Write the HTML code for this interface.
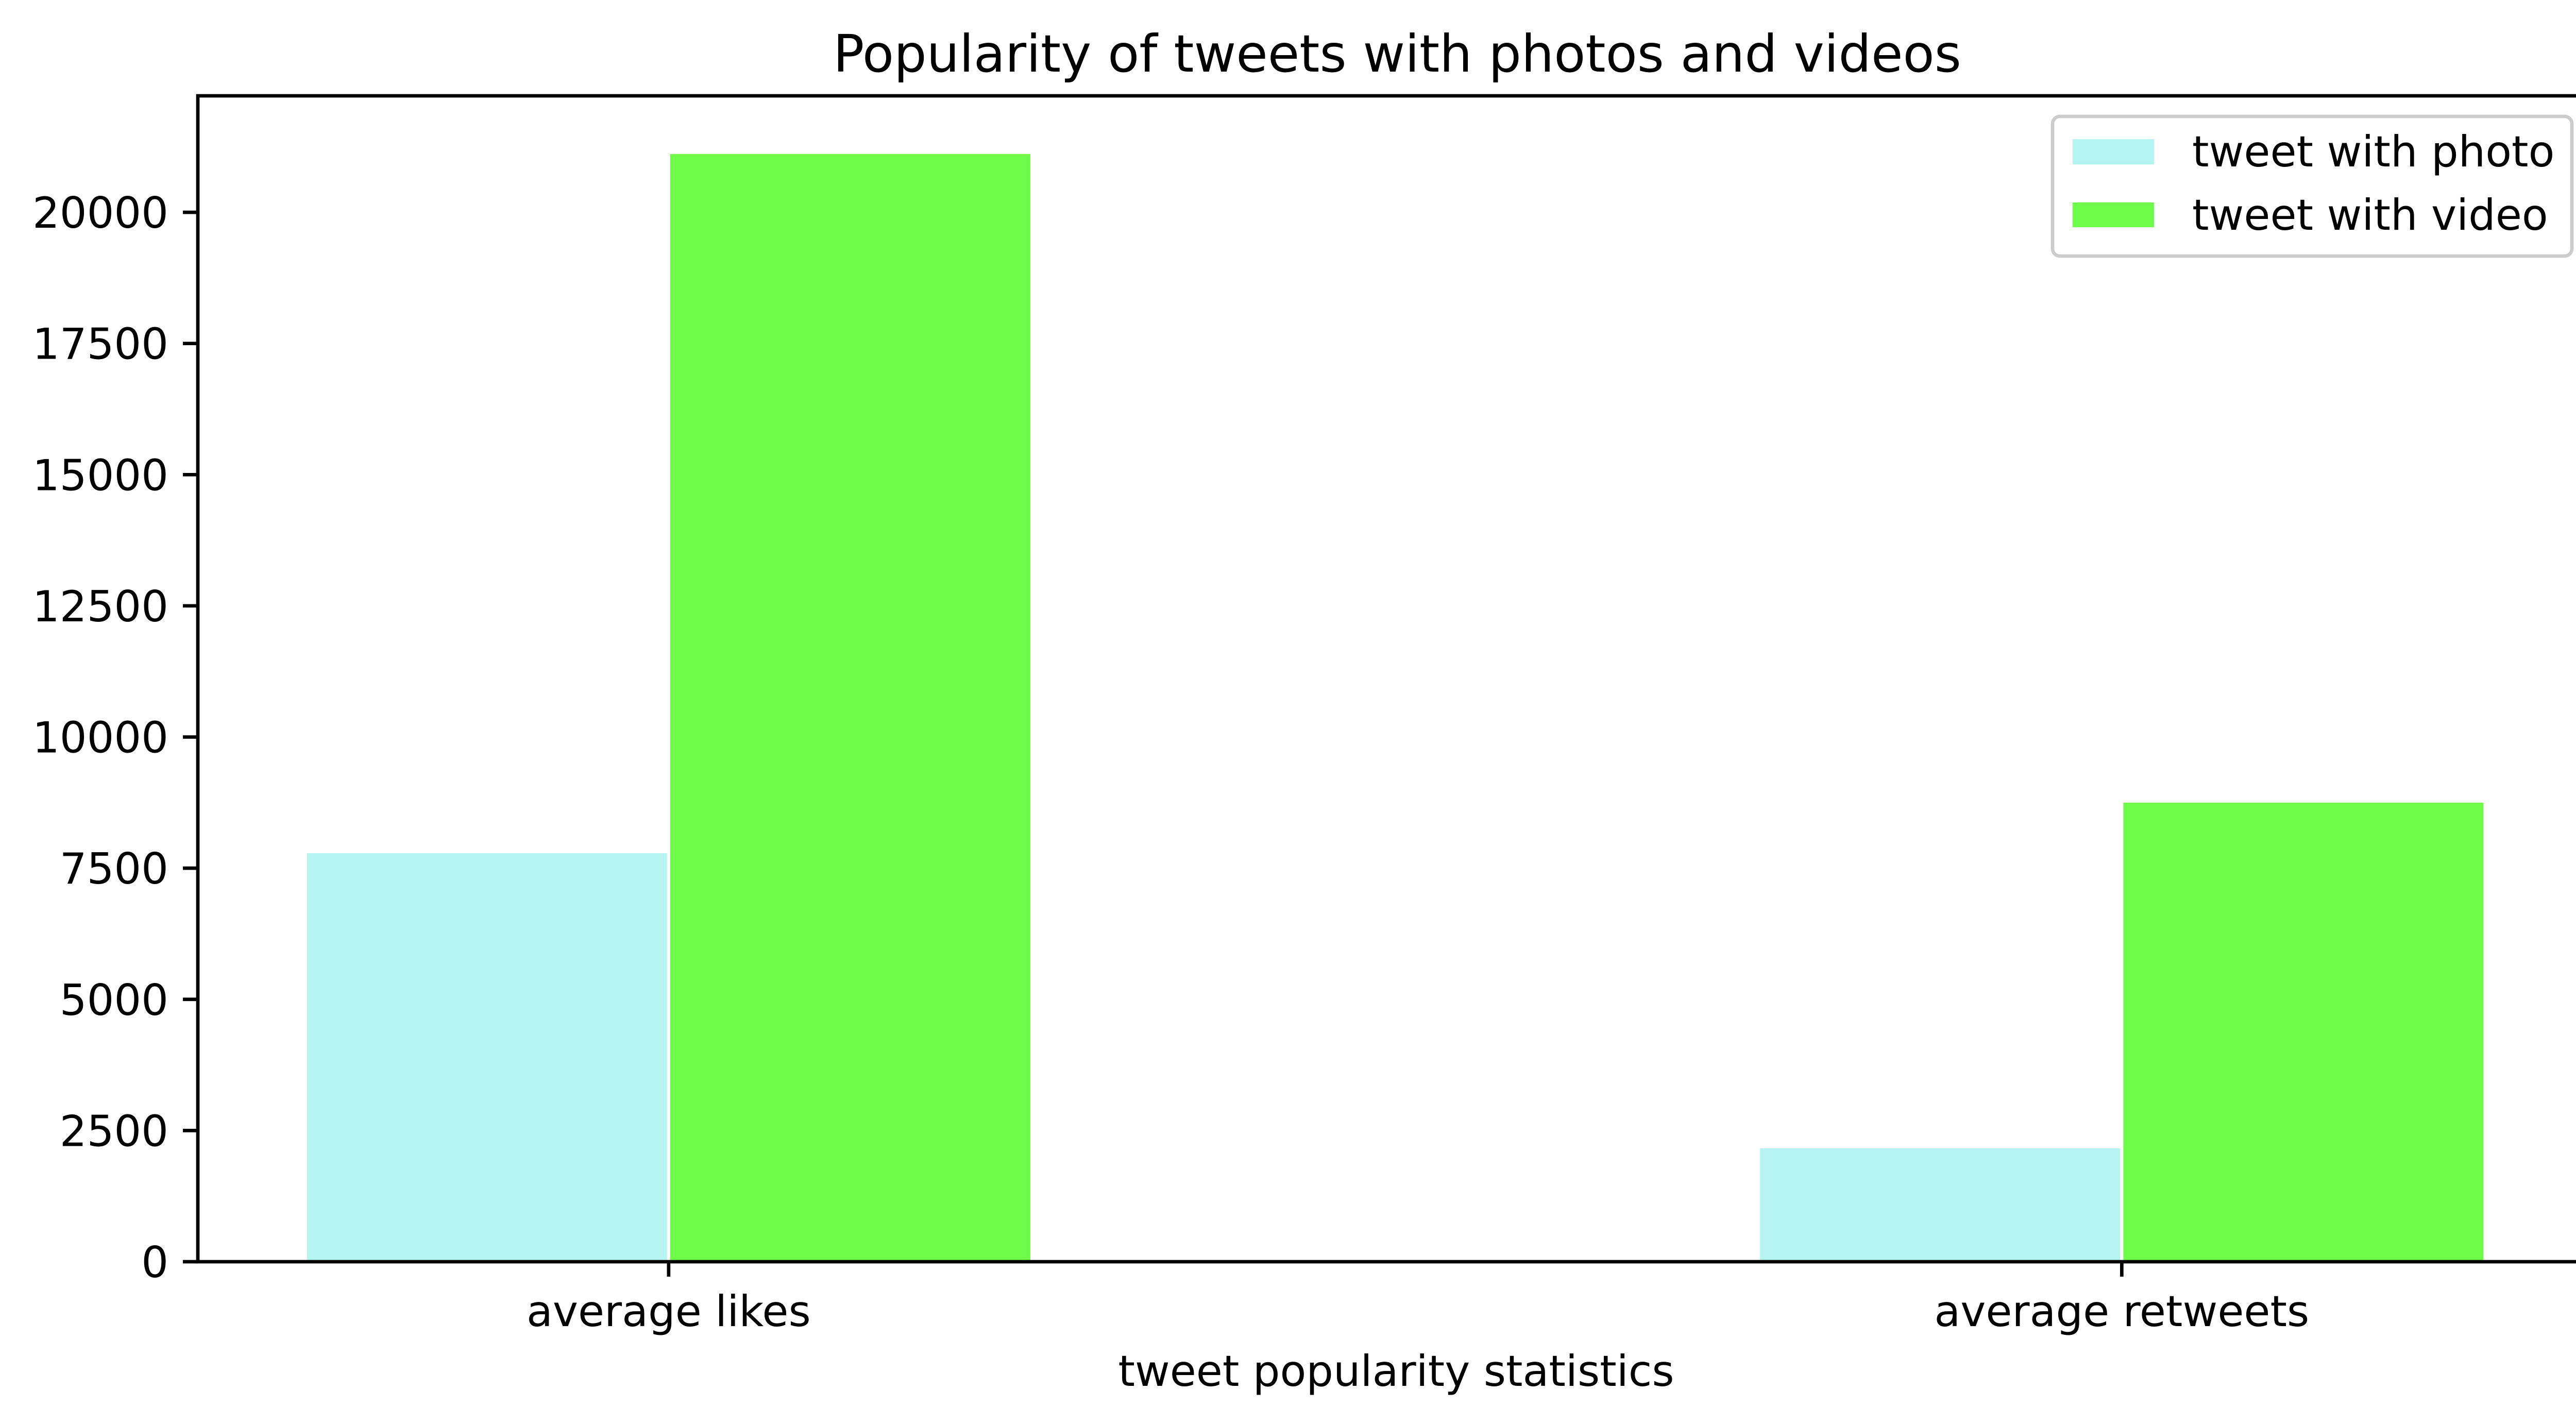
<!DOCTYPE html>
<html><head><meta charset="utf-8"><style>
html,body{margin:0;padding:0;background:#fff;}
svg{display:block;font-family:"DejaVu Sans","Liberation Sans",sans-serif;}
</style></head><body>
<svg id="chart" width="5093" height="2764" viewBox="0 0 5093 2764" xmlns="http://www.w3.org/2000/svg">
<rect x="0" y="0" width="5093" height="2764" fill="#fff"/>
<text x="2712" y="139" font-size="100" text-anchor="middle" fill="#000">Popularity of tweets with photos and videos</text>
<g id="bars"></g>
<g id="yaxis"></g>
<g id="xaxis"></g>
<rect x="384" y="186" width="4651" height="2263" fill="none" stroke="#000" stroke-width="6.7"/>
<text x="2710" y="2690" font-size="83" text-anchor="middle" fill="#000">tweet popularity statistics</text>
<g>
<rect x="3984" y="226" width="1008" height="271" rx="14" fill="#fff" fill-opacity="0.8" stroke="#cccccc" stroke-width="6.7"/>
<rect x="4023" y="270" width="158" height="49" fill="#b6f4f2"/>
<text x="4255" y="323" font-size="83" fill="#000">tweet with photo</text>
<rect x="4023" y="393" width="158" height="48" fill="#6ffb4a"/>
<text x="4255" y="446" font-size="83" fill="#000">tweet with video</text>
</g>
</svg>
<script>
const categories = ["average likes", "average retweets"];
const photoValues = [7816, 2190];
const videoValues = [21140, 8778];
const yTicks = [0, 2500, 5000, 7500, 10000, 12500, 15000, 17500, 20000];

const NS = "http://www.w3.org/2000/svg";
const plotLeft = 384, plotRight = 5035, plotTop = 186, plotBottom = 2449;
const xMin = -0.324, xMax = 1.325;
const yMax = 22220;
function xScale(v){ return plotLeft + (v - xMin) / (xMax - xMin) * (plotRight - plotLeft); }
function yScale(v){ return plotBottom - v / yMax * (plotBottom - plotTop); }
const barW = 0.25;

const bars = document.getElementById('bars');
function addBar(cx, val, color, name){
  const x0 = xScale(cx - barW/2), x1 = xScale(cx + barW/2);
  const r = document.createElementNS(NS, 'rect');
  r.setAttribute('x', x0); r.setAttribute('width', x1 - x0);
  r.setAttribute('y', yScale(val)); r.setAttribute('height', plotBottom - yScale(val));
  r.setAttribute('fill', color); r.setAttribute('stroke', '#fff'); r.setAttribute('stroke-width', '6');
  
  
  bars.appendChild(r);
}
categories.forEach((c, i) => {
  addBar(i - barW/2, photoValues[i], '#b6f4f2', 'bar-photo-' + i);
  addBar(i + barW/2, videoValues[i], '#6ffb4a', 'bar-video-' + i);
});

const ya = document.getElementById('yaxis');
yTicks.forEach(t => {
  const y = yScale(t);
  const l = document.createElementNS(NS, 'line');
  l.setAttribute('x1', plotLeft - 29); l.setAttribute('x2', plotLeft);
  l.setAttribute('y1', y); l.setAttribute('y2', y);
  l.setAttribute('stroke', '#000'); l.setAttribute('stroke-width', '6.7');
  
  
  ya.appendChild(l);
  const tx = document.createElementNS(NS, 'text');
  tx.setAttribute('x', plotLeft - 57); tx.setAttribute('y', y + 30);
  tx.setAttribute('font-size', '83'); tx.setAttribute('text-anchor', 'end');
  tx.textContent = String(t);
  
  
  ya.appendChild(tx);
});

const xa = document.getElementById('xaxis');
categories.forEach((c, i) => {
  const x = xScale(i);
  const l = document.createElementNS(NS, 'line');
  l.setAttribute('x1', x); l.setAttribute('x2', x);
  l.setAttribute('y1', plotBottom); l.setAttribute('y2', plotBottom + 29);
  l.setAttribute('stroke', '#000'); l.setAttribute('stroke-width', '6.7');
  
  
  xa.appendChild(l);
  const tx = document.createElementNS(NS, 'text');
  tx.setAttribute('x', x); tx.setAttribute('y', 2574);
  tx.setAttribute('font-size', '83'); tx.setAttribute('text-anchor', 'middle');
  tx.textContent = c;
  
  
  xa.appendChild(tx);
});
</script>
</body></html>
